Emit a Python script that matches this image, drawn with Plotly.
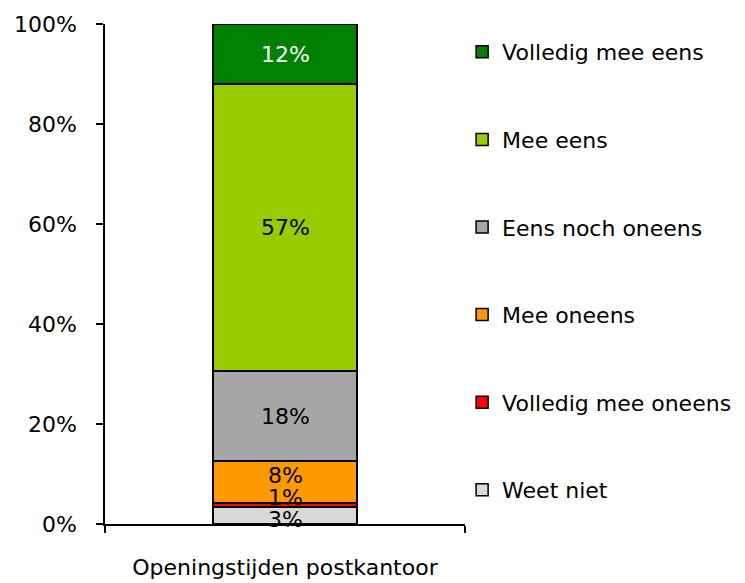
import plotly.graph_objects as go

category = ["Openingstijden postkantoor"]
series_names = ["Weet niet", "Volledig mee oneens", "Mee oneens",
                "Eens noch oneens", "Mee eens", "Volledig mee eens"]
series_values = [3.4, 0.8, 8.4, 18.0, 57.4, 12.0]
series_colors = ["#D9D9D9", "#FF0000", "#FF9900", "#A6A6A6", "#99CC00", "#008000"]
label_colors = ["black", "black", "black", "black", "black", "white"]
label_shift_px = [-4, 8, 7, 0, 0, 0]   # label nudges as in the original
y_ticks = [0, 20, 40, 60, 80, 100]
y_tick_text = ["0%", "20%", "40%", "60%", "80%", "100%"]

FONT = "DejaVu Sans"

fig = go.Figure()
base = 0.0
for i, (name, val, col, lc, sh) in enumerate(zip(series_names, series_values, series_colors,
                                                 label_colors, label_shift_px)):
    fig.add_trace(go.Bar(
        x=category, y=[val], name=name,
        marker=dict(color=col, line=dict(color="black", width=1.5)),
        width=0.4, legendgroup=name, legendrank=1000 - i, hoverinfo="skip",
    ))
    fig.add_annotation(
        x=category[0], y=base + val / 2, text=f"{round(val)}%",
        showarrow=False, yshift=sh,
        font=dict(family=FONT, size=22, color=lc),
    )
    base += val

# page body has an 8px margin, so the figure is offset by 8px
fig.update_layout(
    barmode="stack",
    width=737, height=575,
    margin=dict(l=97, r=280, t=16, b=59, autoexpand=False),
    paper_bgcolor="white", plot_bgcolor="white",
    font=dict(family=FONT, size=22, color="black"),
    showlegend=True,
    legend=dict(
        x=0.992, xanchor="left", y=0.986, yanchor="top",
        traceorder="grouped", tracegroupgap=56,
        font=dict(family=FONT, size=22, color="black"),
        itemwidth=30,
    ),
)
fig.update_xaxes(
    type="category", range=[-0.5, 0.5], automargin=False,
    showline=True, linecolor="black", linewidth=1.5,
    ticks="outside", ticklen=7, tickcolor="black", tickwidth=1.5,
    tickson="boundaries", showgrid=False, ticklabelstandoff=23,
    tickfont=dict(family=FONT, size=22),
)
fig.update_yaxes(
    range=[0, 100], tickvals=y_ticks, ticktext=y_tick_text, automargin=False,
    showline=True, linecolor="black", linewidth=1.5,
    ticks="outside", ticklen=7, tickcolor="black", tickwidth=1.5,
    showgrid=False, zeroline=False, ticklabelstandoff=15,
    tickfont=dict(family=FONT, size=22),
)

fig.write_html("out.html")
